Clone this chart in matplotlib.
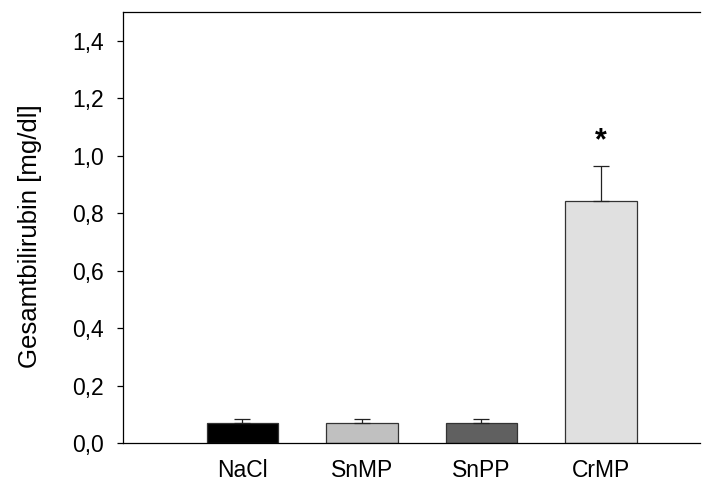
import matplotlib.pyplot as plt
import numpy as np

plt.rcParams['font.family'] = ['Liberation Sans', 'DejaVu Sans']

groups = ['NaCl', 'SnMP', 'SnPP', 'CrMP']
means = [0.070, 0.070, 0.070, 0.841]
sem = [0.015, 0.015, 0.015, 0.122]
colors = ['#000000', '#c0c0c0', '#606060', '#e0e0e0']
signif = ['', '', '', '*']
yticks = [0.0, 0.2, 0.4, 0.6, 0.8, 1.0, 1.2, 1.4]

fig = plt.figure(figsize=(7.10, 4.82), dpi=100)
ax = fig.add_axes([0.1732, 0.0809, 0.8127, 0.8942])

x = np.arange(len(groups))
ax.bar(x, means, width=0.6, color=colors, edgecolor='#333333', linewidth=0.9, zorder=2)
ax.errorbar(x, means, yerr=[np.zeros(len(sem)), sem], fmt='none', ecolor='#222222',
            elinewidth=0.9, capsize=6, capthick=0.9, zorder=3)

# significance marker above the error bar
for xi, m, s, lab in zip(x, means, sem, signif):
    if lab:
        ax.text(xi, m + s + 0.035, lab, ha='center', va='bottom', fontsize=22, fontweight='bold')

ax.set_xlim(-1.0, 3.83)
ax.set_ylim(0, 1.5)
ax.set_yticks(yticks)
ax.set_yticklabels([f'{v:.1f}'.replace('.', ',') for v in yticks], fontsize=16.5)
ax.set_xticks(x)
ax.set_xticklabels(groups, fontsize=16.5)
ax.tick_params(axis='x', length=0, pad=11.5)
ax.tick_params(axis='y', length=4.5, width=0.9, direction='out', pad=9)
ax.set_ylabel('Gesamtbilirubin [mg/dl]', fontsize=18.5)
ax.yaxis.set_label_coords(-0.14, 0.48)

ax.spines['right'].set_visible(False)
for s in ['left', 'top', 'bottom']:
    ax.spines[s].set_linewidth(0.9)

fig.savefig('out.png', dpi=100)
